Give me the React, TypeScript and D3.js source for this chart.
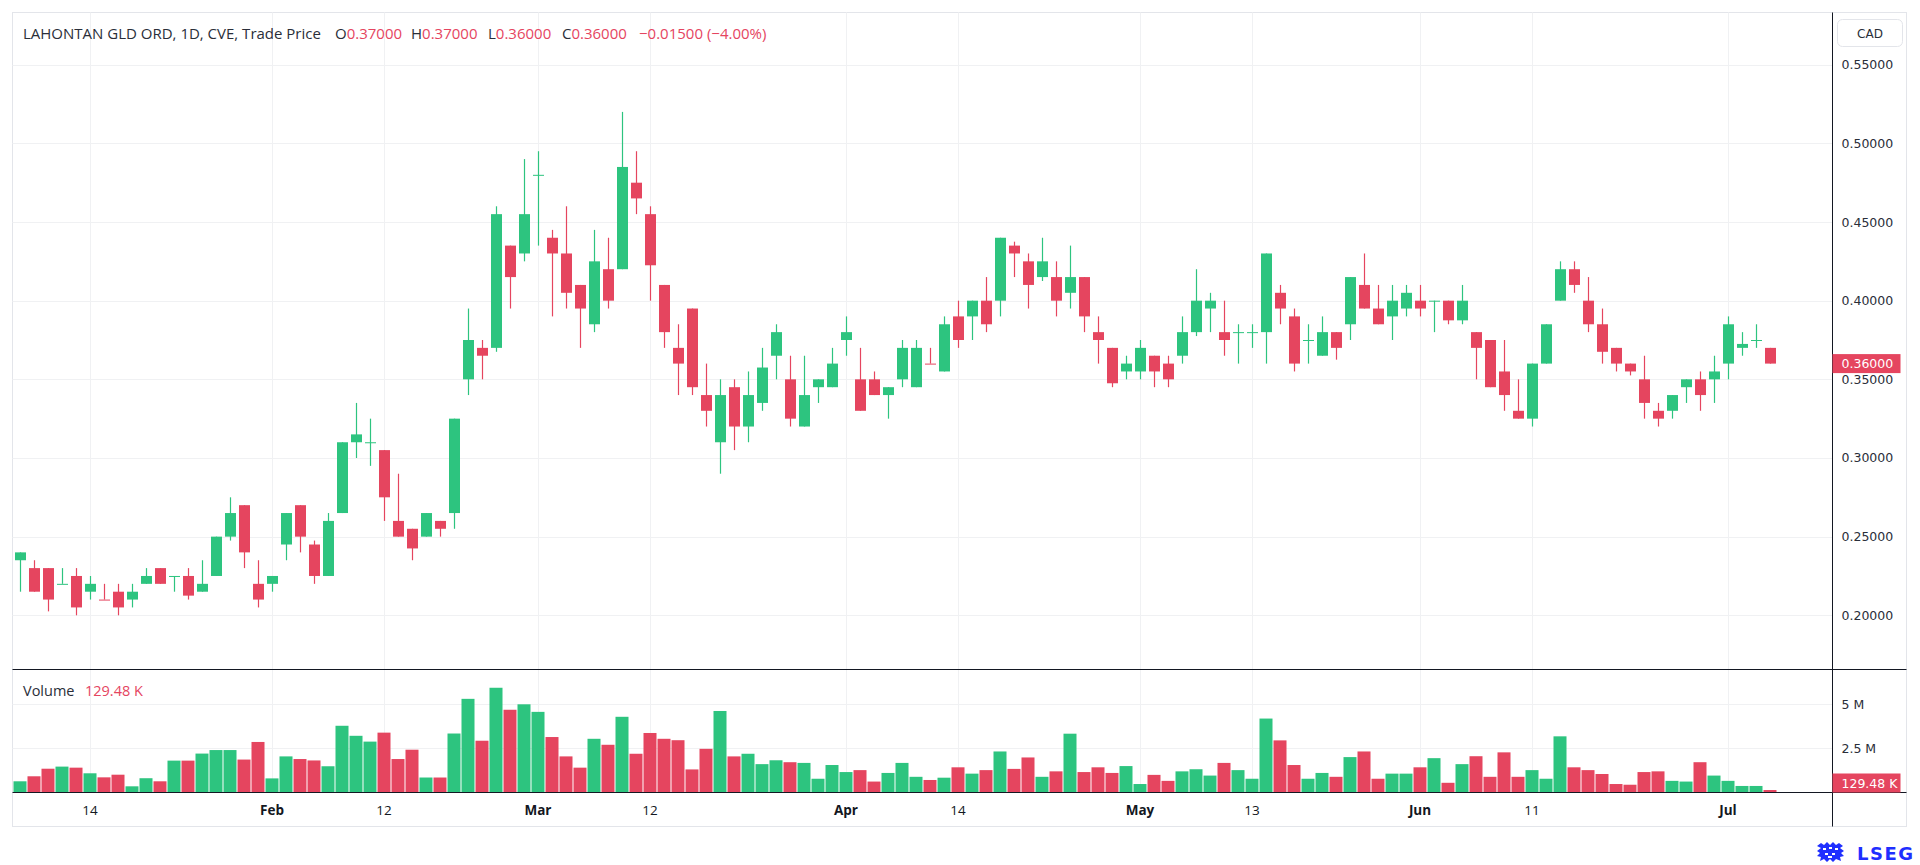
import React from 'react';
import * as d3 from 'd3';

// ---- data ----
const opens = [
  0.235, 0.23, 0.23, 0.22, 0.225, 0.215, 0.21, 0.215, 0.21, 0.22,
  0.23, 0.225, 0.225, 0.215, 0.225, 0.25, 0.27, 0.22, 0.22, 0.245,
  0.27, 0.245, 0.225, 0.265, 0.31, 0.31, 0.305, 0.26, 0.255, 0.25,
  0.26, 0.265, 0.35, 0.37, 0.37, 0.435, 0.43, 0.48, 0.44, 0.43,
  0.41, 0.385, 0.42, 0.42, 0.475, 0.455, 0.41, 0.37, 0.395, 0.34,
  0.31, 0.345, 0.32, 0.335, 0.365, 0.35, 0.32, 0.345, 0.345, 0.375,
  0.35, 0.35, 0.34, 0.35, 0.345, 0.36, 0.355, 0.39, 0.39, 0.4,
  0.4, 0.435, 0.425, 0.415, 0.415, 0.405, 0.415, 0.38, 0.37, 0.355,
  0.355, 0.365, 0.36, 0.365, 0.38, 0.395, 0.38, 0.38, 0.38, 0.38,
  0.405, 0.39, 0.375, 0.365, 0.38, 0.385, 0.41, 0.395, 0.39, 0.395,
  0.4, 0.4, 0.4, 0.3875, 0.38, 0.375, 0.355, 0.33, 0.325, 0.36,
  0.4, 0.42, 0.4, 0.385, 0.37, 0.36, 0.35, 0.33, 0.33, 0.345,
  0.35, 0.35, 0.36, 0.37, 0.375, 0.37,
];
const highs = [
  0.24, 0.235, 0.23, 0.23, 0.23, 0.225, 0.22, 0.22, 0.22, 0.23,
  0.23, 0.225, 0.23, 0.235, 0.25, 0.275, 0.27, 0.235, 0.225, 0.265,
  0.27, 0.2475, 0.265, 0.31, 0.335, 0.325, 0.305, 0.29, 0.255, 0.265,
  0.26, 0.325, 0.395, 0.375, 0.46, 0.435, 0.49, 0.495, 0.445, 0.46,
  0.41, 0.445, 0.44, 0.52, 0.495, 0.46, 0.41, 0.385, 0.395, 0.36,
  0.35, 0.35, 0.355, 0.37, 0.385, 0.365, 0.365, 0.35, 0.37, 0.39,
  0.37, 0.355, 0.345, 0.375, 0.375, 0.37, 0.39, 0.4, 0.4, 0.415,
  0.44, 0.4375, 0.43, 0.44, 0.425, 0.435, 0.415, 0.39, 0.37, 0.365,
  0.375, 0.365, 0.365, 0.39, 0.42, 0.405, 0.4, 0.385, 0.385, 0.43,
  0.41, 0.395, 0.385, 0.39, 0.38, 0.415, 0.43, 0.41, 0.41, 0.41,
  0.41, 0.4, 0.4, 0.41, 0.38, 0.375, 0.375, 0.35, 0.36, 0.385,
  0.425, 0.425, 0.415, 0.395, 0.37, 0.36, 0.365, 0.335, 0.34, 0.35,
  0.355, 0.365, 0.39, 0.38, 0.385, 0.37,
];
const lows = [
  0.215, 0.215, 0.2025, 0.22, 0.2, 0.21, 0.21, 0.2, 0.205, 0.22,
  0.22, 0.215, 0.21, 0.215, 0.225, 0.2475, 0.23, 0.205, 0.215, 0.235,
  0.24, 0.22, 0.225, 0.265, 0.3, 0.295, 0.26, 0.25, 0.235, 0.25,
  0.25, 0.255, 0.34, 0.35, 0.3675, 0.395, 0.425, 0.435, 0.39, 0.395,
  0.37, 0.38, 0.395, 0.42, 0.455, 0.4, 0.37, 0.34, 0.34, 0.32,
  0.29, 0.305, 0.31, 0.33, 0.35, 0.32, 0.32, 0.335, 0.345, 0.365,
  0.33, 0.34, 0.325, 0.345, 0.345, 0.36, 0.355, 0.37, 0.375, 0.38,
  0.39, 0.415, 0.395, 0.4125, 0.39, 0.395, 0.38, 0.36, 0.345, 0.35,
  0.35, 0.345, 0.345, 0.36, 0.3775, 0.38, 0.365, 0.36, 0.37, 0.36,
  0.385, 0.355, 0.36, 0.365, 0.3625, 0.375, 0.395, 0.385, 0.375, 0.39,
  0.39, 0.38, 0.385, 0.385, 0.35, 0.345, 0.33, 0.325, 0.32, 0.36,
  0.4, 0.405, 0.38, 0.36, 0.355, 0.3525, 0.325, 0.32, 0.325, 0.335,
  0.33, 0.335, 0.35, 0.365, 0.37, 0.36,
];
const closes = [
  0.24, 0.215, 0.21, 0.22, 0.205, 0.22, 0.21, 0.205, 0.215, 0.225,
  0.22, 0.225, 0.2125, 0.22, 0.25, 0.265, 0.24, 0.21, 0.225, 0.265,
  0.25, 0.225, 0.26, 0.31, 0.315, 0.31, 0.275, 0.25, 0.2425, 0.265,
  0.255, 0.325, 0.375, 0.365, 0.455, 0.415, 0.455, 0.48, 0.43, 0.405,
  0.395, 0.425, 0.4, 0.485, 0.465, 0.4225, 0.38, 0.36, 0.345, 0.33,
  0.34, 0.32, 0.34, 0.3575, 0.38, 0.325, 0.34, 0.35, 0.36, 0.38,
  0.33, 0.34, 0.345, 0.37, 0.37, 0.36, 0.385, 0.375, 0.4, 0.385,
  0.44, 0.43, 0.41, 0.425, 0.4, 0.415, 0.39, 0.375, 0.3475, 0.36,
  0.37, 0.355, 0.35, 0.38, 0.4, 0.4, 0.375, 0.38, 0.38, 0.43,
  0.395, 0.36, 0.375, 0.38, 0.37, 0.415, 0.395, 0.385, 0.4, 0.405,
  0.395, 0.4, 0.3875, 0.4, 0.37, 0.345, 0.34, 0.325, 0.36, 0.385,
  0.42, 0.41, 0.385, 0.3675, 0.36, 0.355, 0.335, 0.325, 0.34, 0.35,
  0.34, 0.355, 0.385, 0.3725, 0.375, 0.36,
];
// volume in millions of shares
const volumes = [
  0.625, 0.91, 1.34, 1.46, 1.4, 1.08, 0.85, 1.0, 0.34, 0.8,
  0.625, 1.8, 1.8, 2.2, 2.4, 2.4, 1.86, 2.86, 0.79, 2.04,
  1.89, 1.81, 1.48, 3.78, 3.21, 2.88, 3.39, 1.89, 2.42, 0.84,
  0.84, 3.34, 5.31, 2.93, 5.94, 4.69, 5.0, 4.57, 3.14, 2.04,
  1.4, 3.04, 2.7, 4.29, 2.19, 3.37, 3.04, 2.96, 1.3, 2.47,
  4.62, 2.04, 2.19, 1.6, 1.82, 1.71, 1.67, 0.77, 1.55, 1.15,
  1.26, 0.61, 1.1, 1.67, 0.88, 0.7, 0.83, 1.42, 1.06, 1.26,
  2.32, 1.33, 1.98, 0.88, 1.19, 3.33, 1.15, 1.42, 1.1, 1.49,
  0.47, 0.99, 0.65, 1.19, 1.31, 0.95, 1.67, 1.26, 0.77, 4.19,
  2.95, 1.55, 0.77, 1.1, 0.88, 2.0, 2.32, 0.77, 1.06, 1.06,
  1.42, 1.94, 0.54, 1.6, 2.05, 0.88, 2.27, 0.88, 1.26, 0.77,
  3.18, 1.42, 1.26, 1.04, 0.47, 0.43, 1.15, 1.19, 0.65, 0.61,
  1.71, 0.95, 0.65, 0.36, 0.36, 0.12948,
];
// bars with open == close that are drawn in the falling colour
const dojiDown = [6, 65];

const tickIndex = [5, 18, 26, 37, 45, 59, 67, 80, 88, 100, 108, 122];
const tickLabels = ['14', 'Feb', '12', 'Mar', '12', 'Apr', '14', 'May', '13', 'Jun', '11', 'Jul'];
const tickMajor = [false, true, false, true, false, true, false, true, false, true, false, true];

const priceTicks = [0.2, 0.25, 0.3, 0.35, 0.4, 0.45, 0.5, 0.55];
const volumeTicks = [2.5, 5];
const volumeTickLabels = ['2.5 M', '5 M'];

const lastVolumeLabel = '129.48 K';
const headerTitle = 'LAHONTAN GLD ORD, 1D, CVE, Trade Price';

// ---- styles ----
const UP = '#2dc47f';
const DOWN = '#e5455f';
const GRID = '#f0f1f3';
const BORDER = '#e3e5ea';
const DARK = '#131722';
const TEXT = '#2a2e39';
const FONT = '"Open Sans", "Noto Sans", sans-serif';
const AXFONT = '"DejaVu Sans", sans-serif';
const LOGO = '#1f2fff';

export default function App() {
  const n = opens.length;
  const left = 12.5;
  const axisX = 1832.5;
  const right = 1906.5;
  const top = 12.5;
  const sepY = 669.5;
  const volBottom = 792.5;
  const bottom = 826.5;

  const x = d3.scaleLinear().domain([0, n - 1]).range([20, 1770]);
  const y = d3.scaleLinear().domain([0.2, 0.55]).range([615.3, 64.7]);
  const yv = d3.scaleLinear().domain([0, 5]).range([792.3, 704.3]);

  const isUp = (i: number) =>
    closes[i] > opens[i] || (closes[i] === opens[i] && !dojiDown.includes(i));

  const bodyW = 11;
  const volW = 13;

  const lastClose = closes[n - 1];
  const lastUp = isUp(n - 1);
  const lastColor = lastUp ? UP : DOWN;
  const fmt = d3.format('.5f');
  const change = closes[n - 1] - closes[n - 2];
  const pct = change / closes[n - 2];

  const headerItems = [
    { x: 335, k: 'O', v: fmt(opens[n - 1]) },
    { x: 411, k: 'H', v: fmt(highs[n - 1]) },
    { x: 488, k: 'L', v: fmt(lows[n - 1]) },
    { x: 562, k: 'C', v: fmt(lastClose) },
  ];

  return (
    <svg
      width={1920}
      height={865}
      style={{ position: 'absolute', left: 0, top: 0, background: '#fff' }}
    >
      <rect x={0} y={0} width={1920} height={865} fill="#fff" />
      {/* outer frame */}
      <rect x={left} y={top} width={right - left} height={bottom - top} fill="none" stroke={BORDER} />

      {/* vertical grid */}
      {tickIndex.map((t, i) => (
        <line key={'vg' + i} x1={Math.round(x(t)) + 0.5} x2={Math.round(x(t)) + 0.5} y1={top} y2={volBottom} stroke={GRID} />
      ))}
      {/* price grid */}
      {priceTicks.map((p, i) => (
        <line key={'hg' + i} x1={left} x2={axisX} y1={Math.round(y(p)) + 0.5} y2={Math.round(y(p)) + 0.5} stroke={GRID} />
      ))}
      {/* volume grid */}
      {volumeTicks.map((v, i) => (
        <line key={'vgv' + i} x1={left} x2={axisX} y1={Math.round(yv(v)) + 0.5} y2={Math.round(yv(v)) + 0.5} stroke={GRID} />
      ))}

      {/* candles */}
      {opens.map((o, i) => {
        const c = closes[i];
        const col = isUp(i) ? UP : DOWN;
        const cx = Math.round(x(i)) + 0.5;
        const yTop = y(Math.max(o, c));
        const yBot = y(Math.min(o, c));
        const h = Math.max(1, yBot - yTop);
        return (
          <g key={'c' + i}>
            <line x1={cx} x2={cx} y1={y(highs[i])} y2={y(lows[i])} stroke={col} strokeWidth={1.2} />
            <rect x={cx - bodyW / 2} y={yTop} width={bodyW} height={h} fill={col} />
          </g>
        );
      })}

      {/* volume bars */}
      {volumes.map((v, i) => {
        const col = isUp(i) ? UP : DOWN;
        const cx = x(i);
        return (
          <rect key={'v' + i} x={cx - volW / 2} y={yv(v)} width={volW} height={yv(0) - yv(v)} fill={col} />
        );
      })}

      {/* pane separators & axis line */}
      <line x1={left} x2={right} y1={sepY} y2={sepY} stroke={DARK} />
      <line x1={left} x2={right} y1={volBottom} y2={volBottom} stroke={DARK} />
      <line x1={axisX} x2={axisX} y1={top} y2={bottom} stroke={DARK} />

      {/* header */}
      <g fontFamily={FONT} fontSize={15}>
        <text x={23} y={38.5} fill={TEXT}>{headerTitle}</text>
        {headerItems.map((h) => (
          <text key={h.k} x={h.x} y={38.5} fill={TEXT}>
            {h.k}
            <tspan fill={lastColor}>{h.v}</tspan>
          </text>
        ))}
        <text x={639} y={38.5} fill={lastColor}>
          {d3.format('.5f')(change)} ({(pct * 100).toFixed(2).replace('-', '−')}%)
        </text>
      </g>

      {/* volume legend */}
      <g fontFamily={FONT} fontSize={14.5}>
        <text x={23} y={695.5} fill={TEXT}>Volume</text>
        <text x={85} y={695.5} fill={lastColor}>{lastVolumeLabel}</text>
      </g>

      {/* time axis */}
      <g fontFamily={FONT} fontSize={13.5} fill={DARK} textAnchor="middle">
        {tickIndex.map((t, i) => (
          <text key={'tl' + i} x={x(t)} y={815} fontWeight={tickMajor[i] ? 700 : 400}>
            {tickLabels[i]}
          </text>
        ))}
      </g>

      {/* price axis */}
      <g fontFamily={AXFONT} fontSize={12.5} fill={TEXT}>
        {priceTicks.map((p, i) => (
          <text key={'pl' + i} x={1841.5} y={y(p) + 4.5}>{fmt(p)}</text>
        ))}
        {volumeTicks.map((v, i) => (
          <text key={'vl' + i} x={1841.5} y={yv(v) + 4.5}>{volumeTickLabels[i]}</text>
        ))}
      </g>

      {/* CAD box */}
      <rect x={1837.5} y={19.5} width={65} height={27} rx={5} fill="#fff" stroke={BORDER} />
      <text x={1870} y={37.5} textAnchor="middle" fontFamily={AXFONT} fontSize={12} fill={TEXT}>CAD</text>

      {/* last price tag */}
      <rect x={axisX} y={y(lastClose) - 9.5} width={68} height={19} fill={lastColor} />
      <text x={1841.5} y={y(lastClose) + 4.5} fontFamily={AXFONT} fontSize={12.5} fill="#fff">{fmt(lastClose)}</text>

      {/* last volume tag */}
      <rect x={axisX} y={773.5} width={68} height={19} fill={lastColor} />
      <text x={1841.5} y={787.5} fontFamily={AXFONT} fontSize={12.5} fill="#fff">{lastVolumeLabel}</text>

      {/* LSEG logo */}
      <g transform="translate(1817,842)" fill={LOGO}>
        <path d="M0 4 L4 1 L7 3 L10 0 L13 3 L16 0 L19 3 L22 1 L26 4 L23 6 L27 9 L24 11 L27 14 L23 15 L24 19 L19 17 L16 20 L13 17 L10 20 L7 17 L3 19 L4 15 L0 14 L3 11 L0 9 L4 6 Z" />
        <g fill="#fff">
          <rect x={6} y={6} width={3} height={2} />
          <rect x={12} y={5} width={3} height={2} />
          <rect x={18} y={6} width={3} height={2} />
          <rect x={8} y={11} width={3} height={2} />
          <rect x={15} y={11} width={3} height={2} />
          <rect x={11} y={14} width={4} height={2} />
        </g>
        <text x={40} y={18} fontFamily={AXFONT} fontWeight={700} fontSize={18} letterSpacing={1.5}>LSEG</text>
      </g>
    </svg>
  );
}
